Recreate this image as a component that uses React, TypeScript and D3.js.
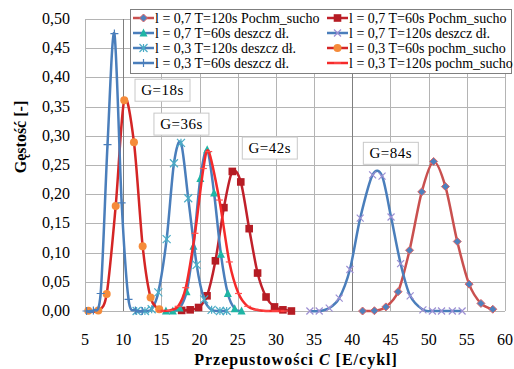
import * as d3 from 'd3';

// tick values
const xTicks = [5, 10, 15, 20, 25, 30, 35, 40, 45, 50, 55, 60];
const yTicks = [0, 0.05, 0.1, 0.15, 0.2, 0.25, 0.3, 0.35, 0.4, 0.45, 0.5];

// l = 0,7 T=120s Pochm_sucho
const s1x = [41.35, 42.9, 44.4, 46.0, 47.5, 49.1, 50.65, 52.2, 53.75, 55.3, 56.85, 58.4];
const s1y = [0, 0.0005, 0.007, 0.033, 0.104, 0.204, 0.256, 0.213, 0.119, 0.046, 0.013, 0.003];
// l = 0,7 T=60s Pochm_sucho
const s2x = [17.66, 18.77, 19.87, 20.98, 22.08, 23.19, 24.29, 25.4, 26.5, 27.6, 28.71, 29.82, 30.92, 32.03];
const s2y = [0.001, 0.002, 0.006, 0.026, 0.086, 0.177, 0.239, 0.221, 0.141, 0.065, 0.024, 0.007, 0.002, 0];
// l = 0,7 T=60s deszcz dł.
const s3x = [15.6, 16.5, 17.4, 18.3, 19.2, 20.1, 21.0, 21.9, 22.8, 23.7, 24.6, 25.5];
const s3y = [0, 0, 0.005, 0.033, 0.111, 0.227, 0.276, 0.202, 0.097, 0.03, 0.004, 0];
// l = 0,7 T=120s deszcz dł.
const s4x = [34.45, 35.67, 36.98, 38.29, 39.69, 41.04, 42.66, 43.9, 45.08, 46.33, 47.58, 49.25, 50.49, 51.69, 53.1, 54.38];
const s4y = [0, 0, 0.005, 0.022, 0.071, 0.159, 0.233, 0.231, 0.161, 0.081, 0.026, 0.002, 0, 0, 0, 0];
// l = 0,3 T=120s deszcz dł.
const s5x = [11.76, 12.85, 13.73, 14.6, 15.69, 16.65, 17.57, 18.52, 19.62, 20.6, 21.58, 22.67, 23.55];
const s5y = [0, 0, 0.003, 0.032, 0.123, 0.253, 0.288, 0.193, 0.079, 0.02, 0.002, 0, 0];
// l = 0,3 T=60s pochm_sucho
const s6x = [5.43, 6.74, 7.84, 9.02, 10.14, 11.41, 12.55, 13.59, 14.72];
const s6y = [0.0005, 0.001, 0.029, 0.18, 0.361, 0.289, 0.111, 0.023, 0.003];
// l = 0,3 T=60s deszcz dł.
const s7x = [5.2, 6.1, 7.05, 7.95, 8.85, 9.8, 10.7, 11.6, 12.5];
const s7y = [0, 0.001, 0.03, 0.285, 0.475, 0.185, 0.02, 0.001, 0];
// l = 0,3 T=120s pochm_sucho
const s8x = [14.9, 16.1, 17.2, 18.2, 19.4, 20.5, 21.2, 22.6, 23.9, 25.1, 26.3, 27.5, 28.7, 29.9, 31.1];
const s8y = [0, 0.001, 0.008, 0.04, 0.133, 0.244, 0.273, 0.19, 0.084, 0.03, 0.008, 0.002, 0, 0, 0];

const labels = [
  'l = 0,7 T=120s Pochm_sucho',
  'l = 0,7 T=60s Pochm_sucho',
  'l = 0,7 T=60s deszcz dł.',
  'l = 0,7 T=120s deszcz dł.',
  'l = 0,3 T=120s deszcz dł.',
  'l = 0,3 T=60s pochm_sucho',
  'l = 0,3 T=60s deszcz dł.',
  'l = 0,3 T=120s pochm_sucho',
];

const gLabels = ['G=18s', 'G=36s', 'G=42s', 'G=84s'];
const gPos = [[15.15, 0.378], [17.63, 0.32], [29.2, 0.279], [45.05, 0.27]];

type Series = { xs: number[]; ys: number[]; line: string; marker: string; fill: string; stroke: string; size: number };

const series: Series[] = [
  { xs: s1x, ys: s1y, line: '#c9504f', marker: 'diamond', fill: '#4f81bd', stroke: '#e06666', size: 4 },
  { xs: s2x, ys: s2y, line: '#c0202a', marker: 'square', fill: '#b51c24', stroke: '#b51c24', size: 3.8 },
  { xs: s3x, ys: s3y, line: '#4a7ebb', marker: 'triangle', fill: '#1fb5a5', stroke: '#1fb5a5', size: 4 },
  { xs: s4x, ys: s4y, line: '#4a7ebb', marker: 'x', fill: 'none', stroke: '#9d8fd3', size: 3.5 },
  { xs: s5x, ys: s5y, line: '#4a7ebb', marker: 'star', fill: 'none', stroke: '#4bacc6', size: 4 },
  { xs: s6x, ys: s6y, line: '#d42525', marker: 'circle', fill: '#f58b3a', stroke: '#f58b3a', size: 4 },
  { xs: s7x, ys: s7y, line: '#4a7ebb', marker: 'plus', fill: 'none', stroke: '#4a7ebb', size: 4 },
  { xs: s8x, ys: s8y, line: '#f52a2a', marker: 'dash', fill: 'none', stroke: '#ff5050', size: 3.5 },
];

const x = d3.scaleLinear().domain([5, 60]).range([85, 505]);
const y = d3.scaleLinear().domain([0, 0.5]).range([311, 19]);
const lineGen = d3.line().curve(d3.curveCardinal.tension(0.1));
const fmt = (d: number) => d3.format('.2f')(d).replace('.', ',');

function Marker({ s, cx, cy }: { s: Series; cx: number; cy: number }) {
  const r = s.size;
  const k = s.marker;
  if (k === 'diamond')
    return <path d={`M${cx},${cy - r}L${cx + r},${cy}L${cx},${cy + r}L${cx - r},${cy}Z`} fill={s.fill} stroke={s.stroke} strokeWidth={1} />;
  if (k === 'square') return <rect x={cx - r} y={cy - r} width={2 * r} height={2 * r} fill={s.fill} />;
  if (k === 'triangle')
    return <path d={`M${cx},${cy - r - 0.5}L${cx + r},${cy + r - 0.5}L${cx - r},${cy + r - 0.5}Z`} fill={s.fill} />;
  if (k === 'circle') return <circle cx={cx} cy={cy} r={r} fill={s.fill} />;
  let d = '';
  if (k === 'x' || k === 'star') d += `M${cx - r},${cy - r}L${cx + r},${cy + r}M${cx - r},${cy + r}L${cx + r},${cy - r}`;
  if (k === 'star') d += `M${cx},${cy - r}L${cx},${cy + r}`;
  if (k === 'plus') d += `M${cx - r},${cy}L${cx + r},${cy}M${cx},${cy - r}L${cx},${cy + r}`;
  if (k === 'dash') d += `M${cx - r},${cy}L${cx + r},${cy}`;
  return <path d={d} fill="none" stroke={s.stroke} strokeWidth={1.2} />;
}

export default function App() {
  const txt = { fontFamily: '"Liberation Serif"' };
  return (
    <div>
      <style>{'body{margin:0}'}</style>
      <svg width={514} height={369} style={{ display: 'block' }}>
        <rect width={514} height={369} fill="#fff" />

        {/* Grid */}
        {yTicks.map((d) => (
          <line key={'h' + d} x1={x(5)} x2={x(60)} y1={Math.round(y(d)) + 0.5} y2={Math.round(y(d)) + 0.5} stroke="#b4b4b4" />
        ))}
        {xTicks.map((d) => (
          <line key={'v' + d} y1={y(0)} y2={y(0.5)} x1={Math.round(x(d)) + 0.5} x2={Math.round(x(d)) + 0.5}
            stroke={d === 10 || d === 40 ? '#7f7f7f' : '#b4b4b4'} />
        ))}

        {/* Tick labels */}
        {yTicks.map((d) => (
          <text key={'yl' + d} x={70} y={y(d) + 5} textAnchor="end" fontSize={16} style={txt}>{fmt(d)}</text>
        ))}
        {xTicks.map((d) => (
          <text key={'xl' + d} x={x(d)} y={345} textAnchor="middle" fontSize={16} style={txt}>{d}</text>
        ))}

        {/* Axis titles */}
        <text x={296} y={365} textAnchor="middle" fontSize={16} fontWeight="bold" style={{ ...txt, letterSpacing: '1px' }}>
          Przepustowości <tspan fontStyle="italic">C</tspan> [E/cykl]
        </text>
        <text transform="translate(26,137) rotate(-90)" textAnchor="middle" fontSize={16} fontWeight="bold" style={txt}>
          Gęstość [-]
        </text>

        {/* Series */}
        {series.map((s, si) => {
          const pts = s.xs.map((v, i) => [x(v), y(s.ys[i])] as [number, number]);
          return (
            <g key={'s' + si}>
              <path d={lineGen(pts) || ''} fill="none" stroke={s.line} strokeWidth={2.5} />
              {pts.map(([px, py], i) => <Marker key={i} s={s} cx={px} cy={py} />)}
            </g>
          );
        })}

        {/* G labels */}
        {gLabels.map((t, i) => {
          const cx = x(gPos[i][0]);
          const cy = y(gPos[i][1]);
          return (
            <g key={t}>
              <rect x={cx - 27.5} y={cy - 11} width={55} height={22} fill="#fff" stroke="#c8c8c8" />
              <text x={cx} y={cy + 5} textAnchor="middle" fontSize={15} style={{ ...txt, letterSpacing: '0.5px' }}>{t}</text>
            </g>
          );
        })}

        {/* Legend */}
        <rect x={130.5} y={9.5} width={381} height={64} fill="#fff" stroke="#7f7f7f" />
        {series.map((s, i) => {
          const lx = i % 2 === 0 ? 133 : 327;
          const ly = 18 + Math.floor(i / 2) * 15;
          return (
            <g key={'lg' + i}>
              <line x1={lx} x2={lx + 21} y1={ly} y2={ly} stroke={s.line} strokeWidth={2.5} />
              <Marker s={s} cx={lx + 10.5} cy={ly} />
              <text x={lx + 22} y={ly + 5} fontSize={14} style={txt}>{labels[i]}</text>
            </g>
          );
        })}
      </svg>
    </div>
  );
}
